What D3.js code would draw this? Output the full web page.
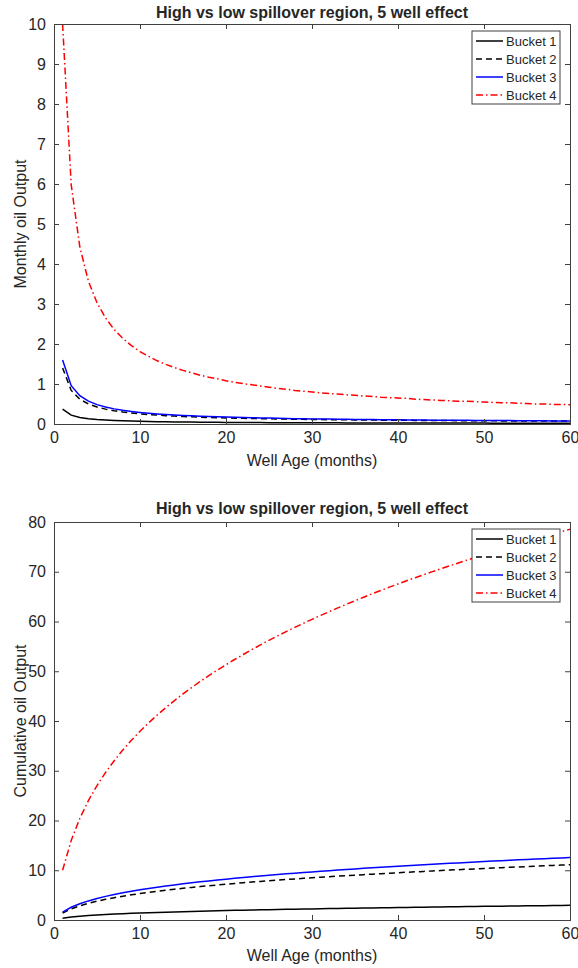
<!DOCTYPE html>
<html>
<head>
<meta charset="utf-8">
<script src="https://cdn.jsdelivr.net/npm/d3@7"></script>
<style>
  body { margin: 0; background: #fff; }
  text { font-family: "Liberation Sans", Arial, sans-serif; fill: #262626; }
</style>
</head>
<body>
<svg id="chart" width="578" height="968"></svg>
<script>
var months = d3.range(1, 61);
var seriesNames = ["Bucket 1", "Bucket 2", "Bucket 3", "Bucket 4"];
var titleText = "High vs low spillover region, 5 well effect";
var xTicks = [0, 10, 20, 30, 40, 50, 60];
var monthlyTicks = [0, 1, 2, 3, 4, 5, 6, 7, 8, 9, 10];
var cumulativeTicks = [0, 10, 20, 30, 40, 50, 60, 70, 80];

// monthly output
var bucket1 = [0.37, 0.221, 0.164, 0.132, 0.112, 0.098, 0.087, 0.079, 0.073, 0.067, 0.063, 0.058, 0.055, 0.052, 0.050, 0.047, 0.045, 0.043, 0.042, 0.040,
  0.038, 0.037, 0.036, 0.035, 0.034, 0.033, 0.032, 0.031, 0.031, 0.030, 0.030, 0.029, 0.029, 0.028, 0.028, 0.027, 0.027, 0.026, 0.026, 0.025,
  0.025, 0.024, 0.024, 0.024, 0.023, 0.023, 0.023, 0.022, 0.022, 0.022, 0.021, 0.021, 0.021, 0.021, 0.020, 0.020, 0.020, 0.020, 0.019, 0.019];
var bucket2 = [1.4, 0.84, 0.62, 0.50, 0.425, 0.372, 0.332, 0.300, 0.275, 0.254, 0.237, 0.222, 0.209, 0.198, 0.188, 0.180, 0.171, 0.164, 0.158, 0.152,
  0.146, 0.142, 0.138, 0.134, 0.130, 0.126, 0.123, 0.119, 0.116, 0.114, 0.111, 0.108, 0.107, 0.104, 0.103, 0.100, 0.099, 0.096, 0.095, 0.094,
  0.092, 0.090, 0.089, 0.087, 0.086, 0.085, 0.083, 0.083, 0.082, 0.080, 0.079, 0.078, 0.078, 0.076, 0.075, 0.074, 0.074, 0.073, 0.073, 0.072];
var bucket3 = [1.6, 0.957, 0.709, 0.571, 0.485, 0.424, 0.378, 0.342, 0.314, 0.290, 0.270, 0.253, 0.238, 0.226, 0.214, 0.205, 0.195, 0.187, 0.181, 0.173,
  0.166, 0.162, 0.157, 0.152, 0.147, 0.142, 0.139, 0.134, 0.131, 0.128, 0.125, 0.122, 0.120, 0.117, 0.115, 0.112, 0.110, 0.107, 0.106, 0.104,
  0.102, 0.099, 0.098, 0.096, 0.094, 0.093, 0.091, 0.091, 0.090, 0.088, 0.086, 0.085, 0.085, 0.083, 0.082, 0.080, 0.080, 0.078, 0.078, 0.077];
var bucket4 = [10, 5.98, 4.43, 3.57, 3.03, 2.65, 2.36, 2.14, 1.96, 1.81, 1.69, 1.58, 1.49, 1.41, 1.34, 1.28, 1.22, 1.17, 1.13, 1.08,
  1.04, 1.01, 0.98, 0.95, 0.92, 0.89, 0.87, 0.84, 0.82, 0.80, 0.78, 0.76, 0.75, 0.73, 0.72, 0.70, 0.69, 0.67, 0.66, 0.65,
  0.64, 0.62, 0.61, 0.60, 0.59, 0.58, 0.57, 0.57, 0.56, 0.55, 0.54, 0.53, 0.53, 0.52, 0.51, 0.50, 0.50, 0.49, 0.49, 0.48];

var monthly = [bucket1, bucket2, bucket3, bucket4];
// bottom panel is the running total of the same series
var cumulative = monthly.map(function (s) { return Array.from(d3.cumsum(s)); });

var styles = [
  { color: "#000000", dash: null },
  { color: "#000000", dash: "6,4" },
  { color: "#0000ff", dash: null },
  { color: "#ff0000", dash: "7,3,1.5,3" }
];

var svg = d3.select("#chart");
var axisColor = "#404040";

function drawPanel(top, bottom, yMax, yTicks, data, yTitle, titleY, xTitleY) {
  var left = 54, right = 570;
  var x = d3.scaleLinear().domain([0, 60]).range([left, right]);
  var y = d3.scaleLinear().domain([0, yMax]).range([bottom, top]);
  var g = svg.append("g");

  var clipId = "clip" + top;
  g.append("clipPath").attr("id", clipId).append("rect")
    .attr("x", left).attr("y", top - 1).attr("width", right - left).attr("height", bottom - top + 1);

  var line = d3.line()
    .x(function (d, i) { return x(months[i]); })
    .y(function (d) { return y(d); });

  g.selectAll(".series").data(data).enter().append("path")
    .attr("clip-path", "url(#" + clipId + ")")
    .attr("d", line)
    .attr("fill", "none")
    .attr("stroke", function (d, i) { return styles[i].color; })
    .attr("stroke-width", 1.5)
    .attr("stroke-dasharray", function (d, i) { return styles[i].dash; });

  // axes, ticks inside like matlab
  var axB = d3.axisBottom(x).tickValues(xTicks).tickSize(-5).tickPadding(8);
  var axT = d3.axisTop(x).tickValues(xTicks).tickSize(-5).tickFormat("");
  var axL = d3.axisLeft(y).tickValues(yTicks).tickSize(-5).tickPadding(8);
  var axR = d3.axisRight(y).tickValues(yTicks).tickSize(-5).tickFormat("");
  [[axB, "translate(0," + bottom + ")"], [axT, "translate(0," + top + ")"],
   [axL, "translate(" + left + ",0)"], [axR, "translate(" + right + ",0)"]].forEach(function (a) {
    var ag = g.append("g").attr("transform", a[1]).call(a[0]);
    ag.select(".domain").attr("stroke", axisColor).attr("stroke-width", 1);
    ag.selectAll(".tick line").attr("stroke", axisColor);
    ag.selectAll(".tick text").style("font-size", "16px").style("font-family", "Liberation Sans, Arial, sans-serif").attr("fill", "#262626");
  });

  g.append("text").attr("x", (left + right) / 2).attr("y", titleY)
    .attr("text-anchor", "middle").style("font-size", "16px").style("font-weight", "bold")
    .attr("fill", "#000").text(titleText);
  g.append("text").attr("x", (left + right) / 2).attr("y", xTitleY)
    .attr("text-anchor", "middle").style("font-size", "16px").text("Well Age (months)");
  g.append("text").attr("transform", "translate(26," + (top + bottom) / 2 + ") rotate(-90)")
    .attr("text-anchor", "middle").style("font-size", "16px").text(yTitle);

  // legend
  var lx = 472, ly = top + 7;
  var leg = g.append("g").attr("transform", "translate(" + lx + "," + ly + ")");
  leg.append("rect").attr("width", 88).attr("height", 73)
    .attr("fill", "#fff").attr("stroke", axisColor).attr("stroke-width", 1);
  seriesNames.forEach(function (name, i) {
    var yy = 10 + i * 18;
    leg.append("line").attr("x1", 4).attr("x2", 31).attr("y1", yy).attr("y2", yy)
      .attr("stroke", styles[i].color).attr("stroke-width", 1.5)
      .attr("stroke-dasharray", styles[i].dash);
    leg.append("text").attr("x", 34).attr("y", yy + 5).style("font-size", "13px").text(name);
  });
}

drawPanel(24, 424, 10, monthlyTicks, monthly, "Monthly oil Output", 18, 466);
drawPanel(522, 920, 80, cumulativeTicks, cumulative, "Cumulative oil Output", 514, 961);
</script>
</body>
</html>
